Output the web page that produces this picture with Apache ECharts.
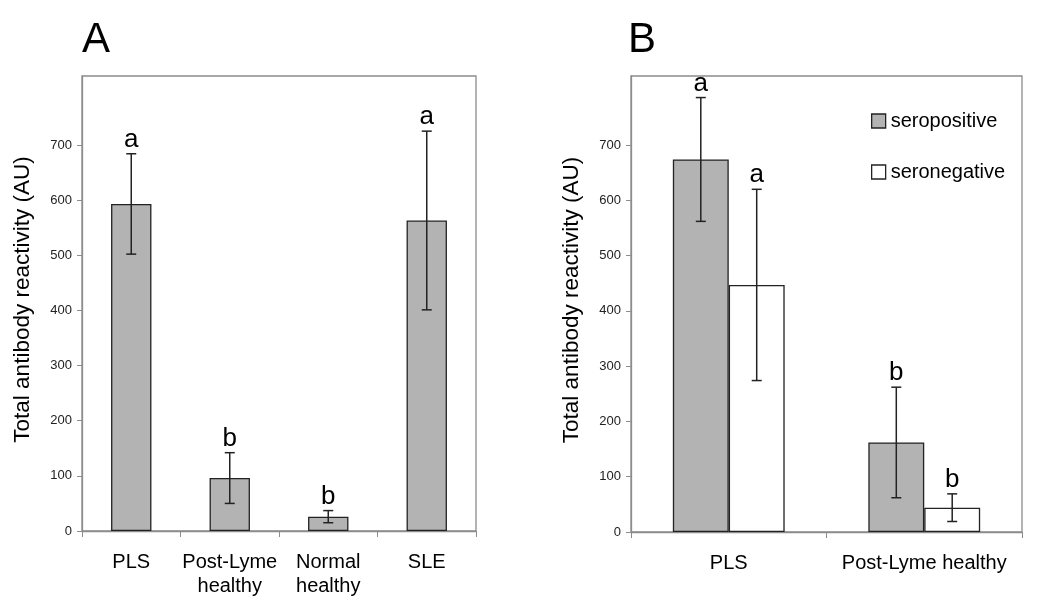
<!DOCTYPE html>
<html>
<head>
<meta charset="utf-8">
<script src="https://cdn.jsdelivr.net/npm/echarts@6/dist/echarts.min.js"></script>
<style>html,body{margin:0;padding:0;background:#fff}#c{width:1050px;height:611px}</style>
</head>
<body>
<div id="c"></div>
<script>
const catsA = ['PLS', 'Post-Lyme\nhealthy', 'Normal\nhealthy', 'SLE'];
const valsA = [593, 96, 26, 563];
const errA = [91, 46, 11, 162];
const lettersA = ['a', 'b', 'b', 'a'];

const catsB = ['PLS', 'Post-Lyme healthy'];
const seroPos = [674, 162];
const errPos = [112, 100];
const lettersPos = ['a', 'b'];
const seroNeg = [447, 44];
const errNeg = [173, 25];
const lettersNeg = ['a', 'b'];

const yTicks = [0, 100, 200, 300, 400, 500, 600, 700];
const yTitle = 'Total antibody reactivity (AU)';

const FONT = 'Liberation Sans, Arial, sans-serif';
const GRAY = '#b3b3b3';
const BOXC = '#8c8c8c';

function errRender(letters, sign, frac) {
  return function (params, api) {
    const idx = api.value(0), v = api.value(1), e = api.value(2);
    const band = api.size([1, 0])[0];
    const x = api.coord([idx, v])[0] + sign * band * frac;
    const yt = api.coord([idx, v + e])[1];
    const yb = api.coord([idx, v - e])[1];
    const cw = 5;
    const ls = { stroke: '#222', lineWidth: 1.5 };
    return {
      type: 'group',
      children: [
        { type: 'line', shape: { x1: x, y1: yt, x2: x, y2: yb }, style: ls },
        { type: 'line', shape: { x1: x - cw, y1: yt, x2: x + cw, y2: yt }, style: ls },
        { type: 'line', shape: { x1: x - cw, y1: yb, x2: x + cw, y2: yb }, style: ls },
        { type: 'text', style: { text: letters[params.dataIndex], x: x, y: yt - 1, align: 'center', verticalAlign: 'bottom', font: '26px ' + FONT, fill: '#000' } }
      ]
    };
  };
}

function mkX(gi, data) {
  return {
    type: 'category', gridIndex: gi, data: data,
    axisLine: { show: true, lineStyle: { color: BOXC, width: 1.3 } },
    axisTick: { show: true, length: 6, lineStyle: { color: BOXC } },
    axisLabel: { interval: 0, color: '#000', fontSize: 20, fontFamily: FONT, margin: 19, lineHeight: 24 }
  };
}
function mkY(gi) {
  return {
    type: 'value', gridIndex: gi, min: 0, max: 825, interval: 100,
    name: yTitle, nameLocation: 'middle', nameGap: 48, nameRotate: 90,
    nameTextStyle: { fontSize: 22.5, fontFamily: FONT, color: '#000', padding: [0, 0, 0, 8] },
    axisLine: { show: true, lineStyle: { color: BOXC, width: 1.3 } },
    axisTick: { show: true, length: 5, customValues: yTicks, lineStyle: { color: BOXC } },
    axisLabel: { color: '#222', fontSize: 13, fontFamily: FONT, margin: 10, customValues: yTicks },
    splitLine: { show: false }
  };
}

const barStyle = (c) => ({ color: c, borderColor: '#222', borderWidth: 1.3 });

const chart = echarts.init(document.getElementById('c'));
chart.setOption({
  animation: false,
  backgroundColor: '#fff',
  title: [
    { text: 'A', left: 77, top: 14, padding: 5, textStyle: { fontSize: 42, fontWeight: 'normal', fontFamily: FONT, color: '#000' } },
    { text: 'B', left: 623, top: 14, padding: 5, textStyle: { fontSize: 42, fontWeight: 'normal', fontFamily: FONT, color: '#000' } }
  ],
  legend: {
    orient: 'vertical', left: 871, top: 111, padding: 0, itemWidth: 14, itemHeight: 14, itemGap: 31,
    textStyle: { fontSize: 20, fontFamily: FONT, color: '#000' },
    data: [
      { name: 'seropositive', icon: 'rect', itemStyle: barStyle(GRAY) },
      { name: 'seronegative', icon: 'rect', itemStyle: barStyle('#fff') }
    ]
  },
  grid: [
    { left: 82, right: 574, top: 76, bottom: 80, show: true, borderColor: BOXC, borderWidth: 1.3 },
    { left: 631, right: 28, top: 76, bottom: 79, show: true, borderColor: BOXC, borderWidth: 1.3 }
  ],
  xAxis: [mkX(0, catsA), mkX(1, catsB)],
  yAxis: [mkY(0), mkY(1)],
  series: [
    { type: 'bar', name: 'A', xAxisIndex: 0, yAxisIndex: 0, data: valsA, barWidth: '41%', itemStyle: barStyle(GRAY) },
    { type: 'custom', xAxisIndex: 0, yAxisIndex: 0, renderItem: errRender(lettersA, 0, 0),
      data: valsA.map((v, i) => [i, v, errA[i]]), z: 5 },
    { type: 'bar', name: 'seropositive', xAxisIndex: 1, yAxisIndex: 1, data: seroPos, barWidth: '28.6%', barGap: '0%', itemStyle: barStyle(GRAY) },
    { type: 'bar', name: 'seronegative', xAxisIndex: 1, yAxisIndex: 1, data: seroNeg, barWidth: '28.6%', barGap: '0%', itemStyle: barStyle('#fff') },
    { type: 'custom', xAxisIndex: 1, yAxisIndex: 1, renderItem: errRender(lettersPos, -1, 0.143),
      data: seroPos.map((v, i) => [i, v, errPos[i]]), z: 5 },
    { type: 'custom', xAxisIndex: 1, yAxisIndex: 1, renderItem: errRender(lettersNeg, 1, 0.143),
      data: seroNeg.map((v, i) => [i, v, errNeg[i]]), z: 5 }
  ]
});
</script>
</body>
</html>
